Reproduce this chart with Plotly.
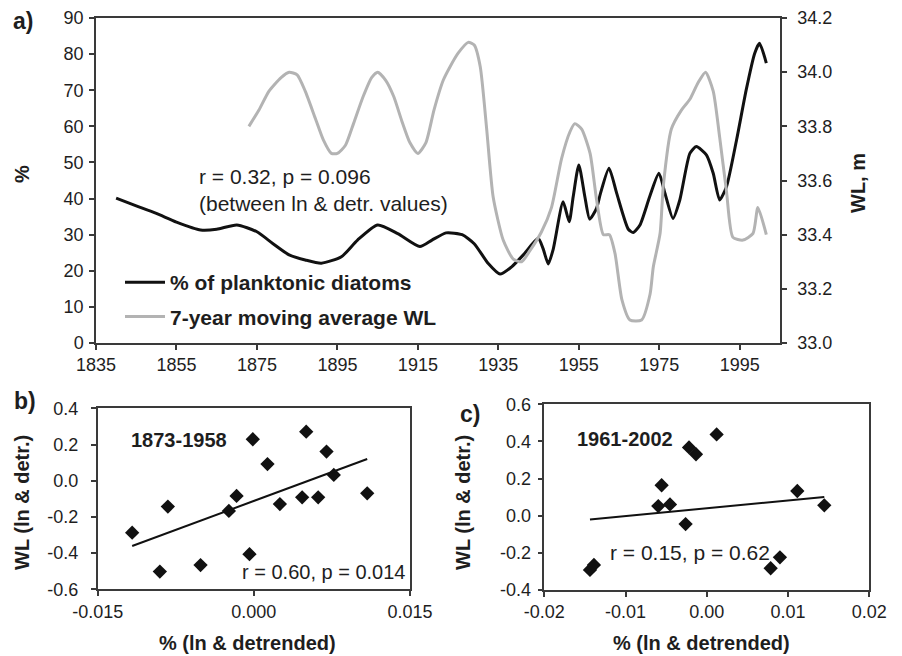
import numpy as np
import plotly.graph_objects as go

# ---------------- data ----------------
plank_years = [1840, 1845, 1850, 1855, 1861, 1865, 1870, 1875, 1879, 1883, 1887, 1891,
               1896, 1900, 1905, 1910, 1915.5, 1918.5, 1922, 1926, 1929, 1932.5, 1935.4,
               1938.3, 1941.2, 1944.9, 1946.1, 1947.4, 1948.6, 1951.1, 1952.6, 1953.6,
               1955, 1956.5, 1957.7, 1959.4, 1960.4, 1962.5, 1964.4, 1967.3, 1968.5,
               1970.2, 1972.6, 1974.9, 1976.4, 1978.4, 1980.1, 1982.6, 1984.2, 1986.7,
               1988.4, 1990.0, 1991.7, 1994.2, 1996.6, 1998.7, 1999.9, 2001.6]
plank_pct = [40.1, 38.0, 35.9, 33.5, 31.3, 31.5, 32.7, 30.8, 27.5, 24.4, 23.0, 22.1,
             23.9, 28.5, 32.7, 30.3, 26.7, 28.5, 30.5, 30.0, 27.5, 22.0, 19.1,
             21.1, 24.4, 29.0, 26.2, 21.9, 25.8, 39.1, 33.6, 40.5,
             49.3, 40.5, 34.3, 37.3, 41.5, 48.4, 41.5, 31.5, 30.6,
             32.7, 40.5, 47.0, 41.5, 34.5, 39.6, 52.5, 54.4, 52.1,
             47.0, 39.6, 43.3, 56.2, 70.1, 80.2, 83.0, 77.5]

wl_years = [1873, 1875.5, 1878, 1881, 1883, 1885, 1887, 1889.5, 1891.5, 1893.5, 1895,
            1897, 1899, 1901.4, 1903.5, 1905, 1907, 1909, 1911, 1913, 1915, 1917, 1919,
            1921.3, 1923, 1925, 1927.5, 1929, 1930.5, 1932.1, 1933.7, 1936.2, 1938.7,
            1940.8, 1942.8, 1945.7, 1948.2, 1950.7, 1952.8, 1954, 1955.7, 1957.8, 1959.4,
            1961.1, 1962.6, 1964, 1965.7, 1967.7, 1970.6, 1972.7, 1973.5, 1975.2, 1976.0,
            1978, 1980.5, 1982.6, 1984.6, 1986.5, 1988.4, 1990, 1991.7, 1993.3, 1995.8,
            1998.3, 1999.5, 2001.6]
wl_m = [33.80, 33.86, 33.93, 33.98, 34.00, 33.99, 33.93, 33.83, 33.75, 33.70, 33.70,
        33.73, 33.81, 33.91, 33.98, 34.00, 33.97, 33.91, 33.82, 33.74, 33.70, 33.74, 33.86,
        33.97, 34.02, 34.07, 34.11, 34.10, 34.02, 33.79, 33.54, 33.38, 33.31,
        33.30, 33.34, 33.41, 33.50, 33.68, 33.78, 33.81, 33.79, 33.70, 33.53,
        33.40, 33.40, 33.33, 33.16, 33.085, 33.085, 33.18, 33.28, 33.405, 33.58,
        33.79, 33.86, 33.90, 33.96, 34.00, 33.93, 33.76, 33.56, 33.39, 33.38,
        33.405, 33.50, 33.40]

b_x = [-0.01169, -0.00903, -0.00826, -0.00512, -0.0024, -0.00166, -0.00042, -0.0001,
       0.00131, 0.0025, 0.00464, 0.00503, 0.00618, 0.00698, 0.00768, 0.01089]
b_y = [-0.287, -0.502, -0.143, -0.466, -0.167, -0.084, -0.406, 0.229,
       0.092, -0.129, -0.092, 0.271, -0.092, 0.161, 0.032, -0.070]

c_x = [-0.01438, -0.01389, -0.00597, -0.00556, -0.00453, -0.00261, -0.00219, -0.00133,
       0.00121, 0.00786, 0.00900, 0.01114, 0.01446]
c_y = [-0.292, -0.265, 0.052, 0.164, 0.061, -0.045, 0.368, 0.331,
       0.438, -0.283, -0.224, 0.133, 0.056]

a_xticks = [1835, 1855, 1875, 1895, 1915, 1935, 1955, 1975, 1995]
a_yticks = [0, 10, 20, 30, 40, 50, 60, 70, 80, 90]
a_y2ticks = [33.0, 33.2, 33.4, 33.6, 33.8, 34.0, 34.2]
b_xticks = [-0.015, 0.0, 0.015]
b_xlabels = ["-0.015", "0.000", "0.015"]
b_yticks = [-0.6, -0.4, -0.2, 0.0, 0.2, 0.4]
b_ylabels = ["-0.6", "-0.4", "-0.2", "0.0", "0.2", "0.4"]
c_xticks = [-0.02, -0.01, 0.0, 0.01, 0.02]
c_xlabels = ["-0.02", "-0.01", "0.00", "0.01", "0.02"]
c_yticks = [-0.4, -0.2, 0.0, 0.2, 0.4, 0.6]
c_ylabels = ["-0.4", "-0.2", "0.0", "0.2", "0.4", "0.6"]

# ---------------- figure ----------------
W, H = 902, 656
FONT = "Arial, Liberation Sans, sans-serif"
TXT = "#1e1e1e"
AX = "#3a3a3a"
GRAY = "#b3b3b3"


def px_x(p):
    return p / W


def px_y(p):
    return 1 - p / H


fig = go.Figure()

fig.add_trace(go.Scatter(x=plank_years, y=plank_pct, mode="lines",
                         line=dict(color="#111111", width=3, shape="spline", smoothing=0.6),
                         name="% of planktonic diatoms", xaxis="x", yaxis="y",
                         legendgroup="g1", showlegend=True))
fig.add_trace(go.Scatter(x=wl_years, y=wl_m, mode="lines",
                         line=dict(color=GRAY, width=3, shape="spline", smoothing=0.6),
                         name="7-year moving average WL", xaxis="x", yaxis="y2",
                         legendgroup="g2", showlegend=True))

# scatter b
fig.add_trace(go.Scatter(x=b_x, y=b_y, mode="markers", xaxis="x3", yaxis="y3",
                         marker=dict(symbol="diamond", size=11, color="#111111"),
                         showlegend=False))
sb, ib = np.polyfit(b_x, b_y, 1)
bx_line = np.array([min(b_x), max(b_x)])
fig.add_trace(go.Scatter(x=bx_line, y=sb * bx_line + ib, mode="lines", xaxis="x3", yaxis="y3",
                         line=dict(color="#111111", width=2), showlegend=False))

# scatter c
fig.add_trace(go.Scatter(x=c_x, y=c_y, mode="markers", xaxis="x4", yaxis="y4",
                         marker=dict(symbol="diamond", size=11, color="#111111"),
                         showlegend=False))
sc, ic = np.polyfit(c_x, c_y, 1)
cx_line = np.array([min(c_x), max(c_x)])
fig.add_trace(go.Scatter(x=cx_line, y=sc * cx_line + ic, mode="lines", xaxis="x4", yaxis="y4",
                         line=dict(color="#111111", width=2), showlegend=False))

tickfont = dict(family=FONT, size=18, color=TXT)
axbase = dict(showgrid=False, zeroline=False, showline=True, linecolor=AX, linewidth=1.5,
              ticks="outside", ticklen=5, tickwidth=1.5, tickcolor=AX, tickfont=tickfont,
              automargin=False)

fig.update_layout(
    width=W, height=H, autosize=False,
    margin=dict(l=0, r=0, t=0, b=0),
    paper_bgcolor="white", plot_bgcolor="white",
    font=dict(family=FONT, color=TXT),
    xaxis=dict(axbase, domain=[px_x(96), px_x(780)], range=[1835, 2005],
               tickvals=a_xticks, mirror=True, anchor="y"),
    yaxis=dict(axbase, domain=[px_y(343), px_y(18)], range=[0, 90], tickvals=a_yticks,
               anchor="x", ticklabelstandoff=2),
    yaxis2=dict(axbase, overlaying="y", side="right", range=[33.0, 34.2],
                tickvals=a_y2ticks, tickformat=".1f", anchor="x", ticklabelstandoff=7),
    xaxis3=dict(axbase, domain=[px_x(97.7), px_x(410)], range=[-0.015, 0.015],
                tickvals=b_xticks, ticktext=b_xlabels, mirror=True, anchor="y3"),
    yaxis3=dict(axbase, domain=[px_y(589.3), px_y(408.3)], range=[-0.6, 0.4],
                tickvals=b_yticks, ticktext=b_ylabels, mirror=True, anchor="x3",
                ticklabelstandoff=9),
    xaxis4=dict(axbase, domain=[px_x(544.3), px_x(869.3)], range=[-0.02, 0.02],
                tickvals=c_xticks, ticktext=c_xlabels, mirror=True, anchor="y4"),
    yaxis4=dict(axbase, domain=[px_y(590), px_y(404.3)], range=[-0.4, 0.6],
                tickvals=c_yticks, ticktext=c_ylabels, mirror=True, anchor="x4",
                ticklabelstandoff=3),
    legend=dict(x=px_x(120), y=px_y(262), xanchor="left", yanchor="top",
                bgcolor="rgba(0,0,0,0)", font=dict(family=FONT, size=21, color=TXT, weight="bold"),
                tracegroupgap=4, traceorder="grouped", itemwidth=40),
    showlegend=True,
)

ann = []


def add_text(text, x, y, size=20, xanchor="center", angle=0, bold=False):
    t = f"<b>{text}</b>" if bold else text
    ann.append(dict(text=t, x=px_x(x), y=px_y(y), xref="paper", yref="paper",
                    xanchor=xanchor, yanchor="middle", showarrow=False, textangle=angle,
                    font=dict(family=FONT, size=size, color=TXT)))


add_text("a)", 23, 21, size=23, bold=True)
add_text("b)", 25, 401, size=23, bold=True)
add_text("c)", 470, 414, size=23, bold=True)
add_text("%", 22, 174, bold=True, angle=-90)
add_text("WL, m", 858, 183, bold=True, angle=-90)
add_text("r = 0.32, p = 0.096", 197, 177, size=21, xanchor="left")
add_text("(between ln &amp; detr. values)", 197, 203, size=21, xanchor="left")
add_text("WL (ln &amp; detr.)", 22, 503, bold=True, angle=-90)
add_text("WL (ln &amp; detr.)", 463, 503, bold=True, angle=-90)
add_text("% (ln &amp; detrended)", 247, 643, bold=True)
add_text("% (ln &amp; detrended)", 701, 643, bold=True)
add_text("1873-1958", 179, 440, bold=True)
add_text("1961-2002", 625, 439, bold=True)
add_text("r = 0.60, p = 0.014", 407, 572, xanchor="right")
add_text("r = 0.15, p = 0.62", 690, 552, size=21)

fig.update_layout(annotations=ann)

fig.write_html("out.html", config={"displayModeBar": False},
               post_script="document.body.style.margin='0px';")
